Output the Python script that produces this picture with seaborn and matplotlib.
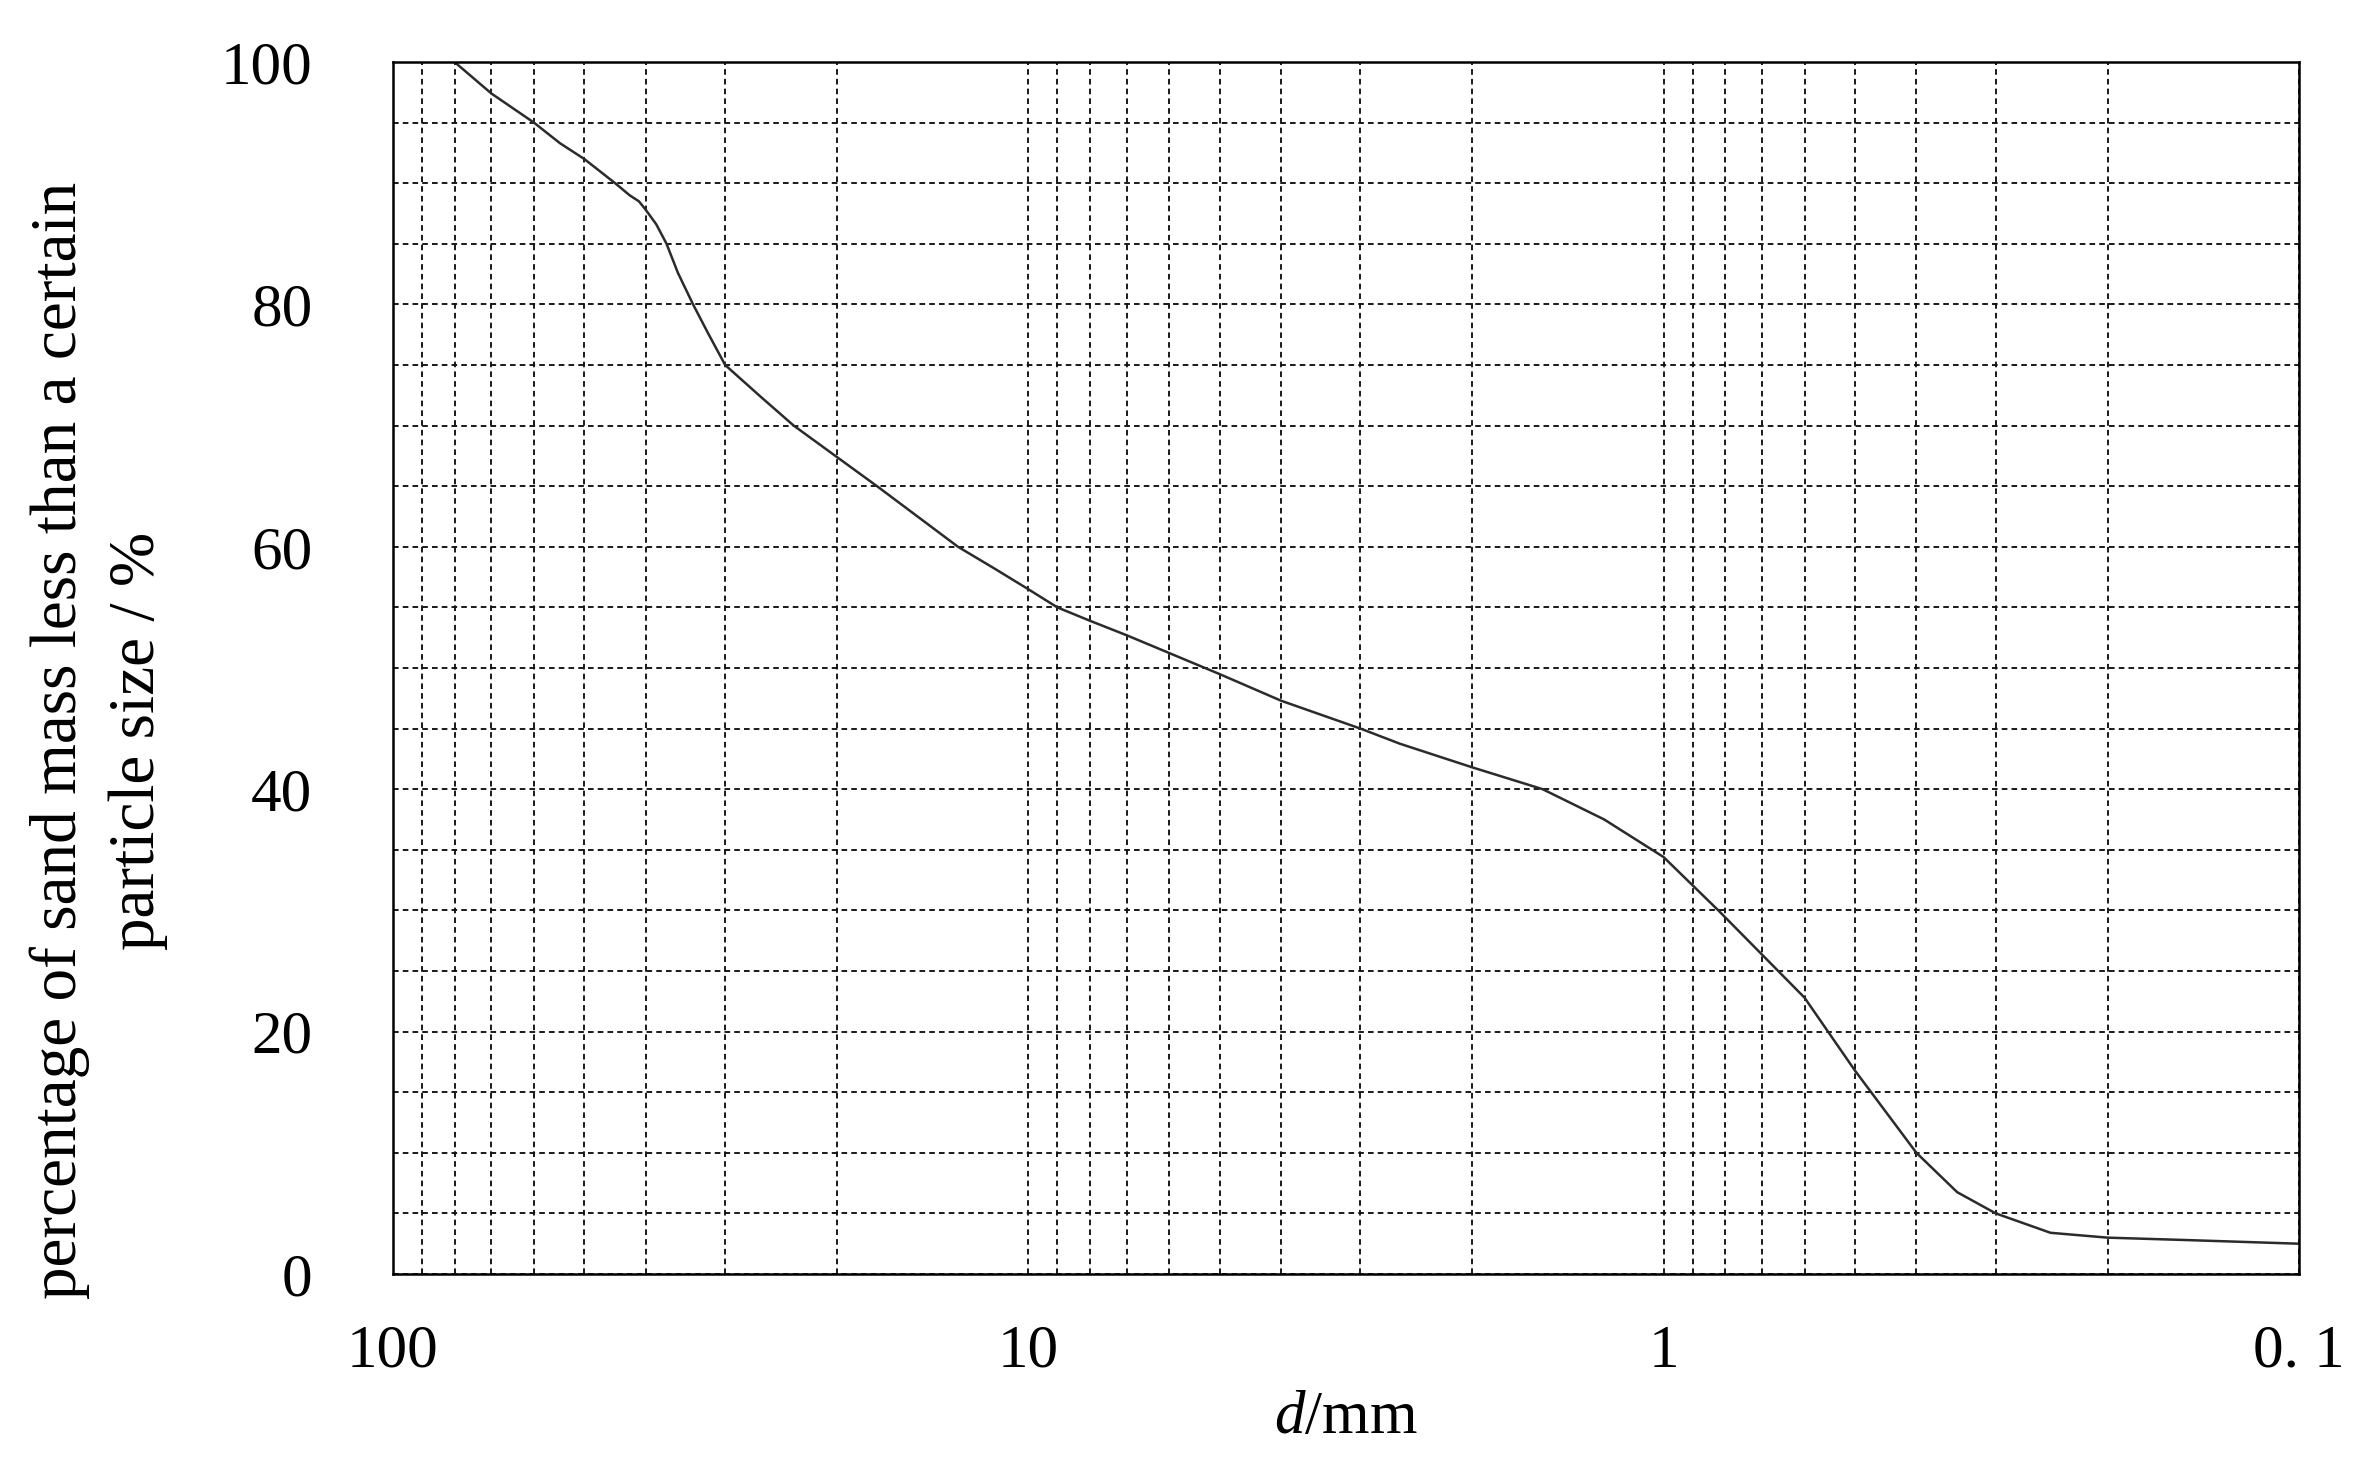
import numpy as np
import pandas as pd
import matplotlib
matplotlib.use('Agg')
import matplotlib.pyplot as plt
import seaborn as sns
from matplotlib.ticker import LogLocator, MultipleLocator, FixedLocator, FixedFormatter, NullFormatter

# grading curve
particle_size = [80, 70, 60, 54.6, 50, 44.7, 42.4, 41, 40, 38.5, 37.1, 35.6, 33.7, 31.9, 30, 26.4, 23.4, 20,
                 17.3, 12.9, 11.3, 10, 9, 8, 7, 5, 4, 3,
                 2.6, 2, 1.55, 1.24, 1, 0.82, 0.66, 0.6, 0.5, 0.4, 0.345, 0.3, 0.246, 0.2, 0.15, 0.1]
percent_finer = [100, 97.4, 95, 93.3, 92, 90, 89, 88.5, 87.8, 86.6, 85, 82.6, 80, 77.6, 75, 72.4, 70, 67.4,
                 65, 60, 58.2, 56.5, 55, 53.9, 52.7, 49.5, 47.3, 45,
                 43.75, 41.8, 40, 37.5, 34.4, 30, 25, 22.8, 16.8, 10, 6.75, 5, 3.4, 3.0, 2.8, 2.5]

x_ticks = [100, 10, 1, 0.1]
x_tick_labels = ['100', '10', '1', '0. 1']
y_ticks = [0, 20, 40, 60, 80, 100]

sns.set_theme(style='white')
plt.rcParams['font.family'] = ['Liberation Serif', 'DejaVu Serif']
plt.rcParams['mathtext.fontset'] = 'custom'
plt.rcParams['mathtext.rm'] = 'Liberation Serif'
plt.rcParams['mathtext.it'] = 'Liberation Serif:italic'

fig = plt.figure(figsize=(23.7, 14.79), dpi=100)
ax = fig.add_axes([0.1658, 0.1386, 0.8042, 0.8195])

df = pd.DataFrame({'d': particle_size, 'p': percent_finer})
sns.lineplot(data=df, x='d', y='p', ax=ax, color='#2b2b2b', linewidth=1.8, sort=False)

ax.set_xscale('log')
ax.set_xlim(100, 0.1)
ax.set_ylim(0, 100)

ax.xaxis.set_major_locator(FixedLocator(x_ticks))
ax.xaxis.set_major_formatter(FixedFormatter(x_tick_labels))
ax.xaxis.set_minor_locator(LogLocator(base=10, subs=np.arange(2, 10)))
ax.xaxis.set_minor_formatter(NullFormatter())
ax.yaxis.set_major_locator(FixedLocator(y_ticks))
ax.yaxis.set_minor_locator(MultipleLocator(5))

ax.grid(True, which='both', axis='both', color='#111111', linestyle=(0, (3, 2.2)), linewidth=1.35)
ax.tick_params(axis='both', which='major', direction='in', length=8, width=1.5, color='black',
               labelsize=44, labelcolor='black')
ax.tick_params(axis='both', which='minor', length=0)
ax.tick_params(axis='y', pad=58)
ax.tick_params(axis='x', pad=36)

for s in ax.spines.values():
    s.set_color('black')
    s.set_linewidth(1.8)

ax.set_xlabel(r'$d$/mm', fontsize=44, color='black', labelpad=8)
ax.set_ylabel('percentage of sand mass less than a certain\nparticle size / %', fontsize=47,
              color='black', linespacing=1.4)
ax.yaxis.set_label_coords(-0.118, 0.44)

fig.savefig('out.png', dpi=100, facecolor='white')
